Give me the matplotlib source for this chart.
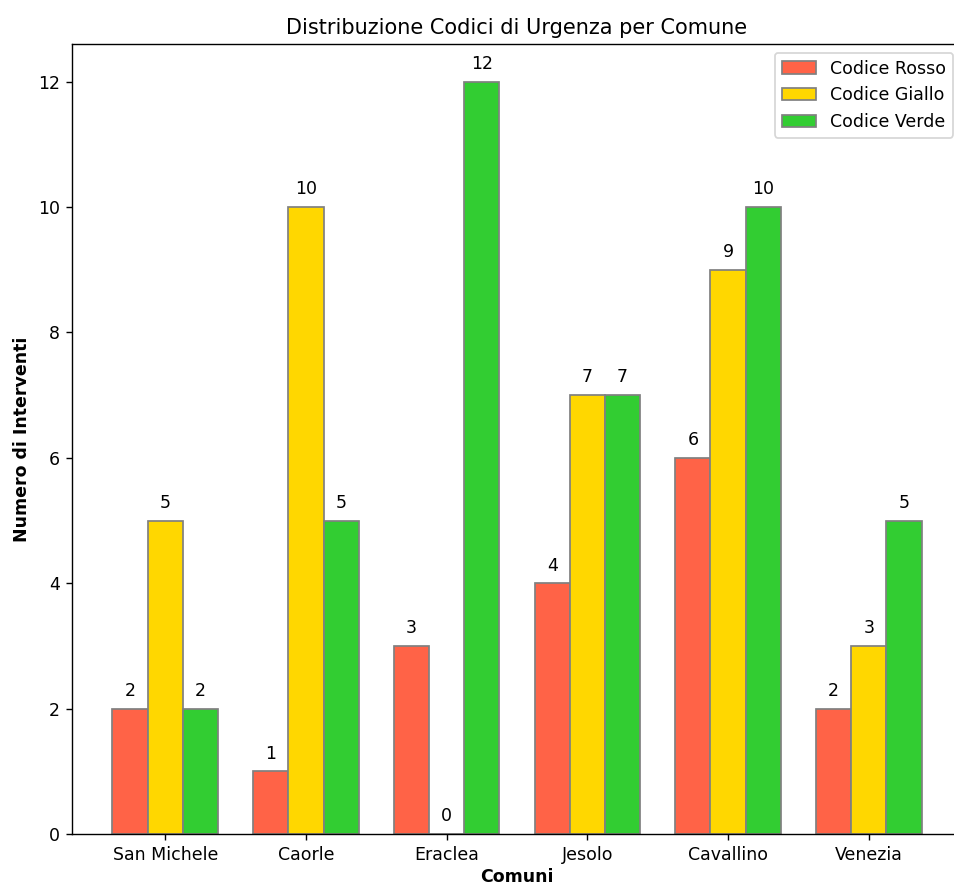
import numpy as np
import matplotlib
matplotlib.use("Agg")
import matplotlib.pyplot as plt

comuni = ["San Michele", "Caorle", "Eraclea", "Jesolo", "Cavallino", "Venezia"]
rosso = [2, 1, 3, 4, 6, 2]
giallo = [5, 10, 0, 7, 9, 3]
verde = [2, 5, 12, 7, 10, 5]

series = [
    ("Codice Rosso", rosso, "tomato"),
    ("Codice Giallo", giallo, "gold"),
    ("Codice Verde", verde, "limegreen"),
]

x = np.arange(len(comuni))
width = 0.25

fig = plt.figure(figsize=(954 / 125, 887 / 125), dpi=125)
# the reference is cropped on the right, so the axes run slightly past the edge
ax = fig.add_axes([72 / 954, 53 / 887, 890 / 954, 790 / 887])
for i, (name, vals, color) in enumerate(series):
    bars = ax.bar(x + (i - 1) * width, vals, width, label=name,
                  color=color, edgecolor="grey")
    for b in bars:
        h = b.get_height()
        ax.annotate(f"{h:g}", xy=(b.get_x() + b.get_width() / 2, h),
                    xytext=(0, 5), textcoords="offset points",
                    ha="center", va="bottom")

ax.set_xticks(x)
ax.set_xticklabels(comuni)
ax.set_xlabel("Comuni", fontweight="bold", labelpad=2.5)
ax.set_ylabel("Numero di Interventi", fontweight="bold")
ax.set_title("Distribuzione Codici di Urgenza per Comune")
ax.set_ylim(0, 12.6)
ax.legend()

fig.savefig("out.png")
